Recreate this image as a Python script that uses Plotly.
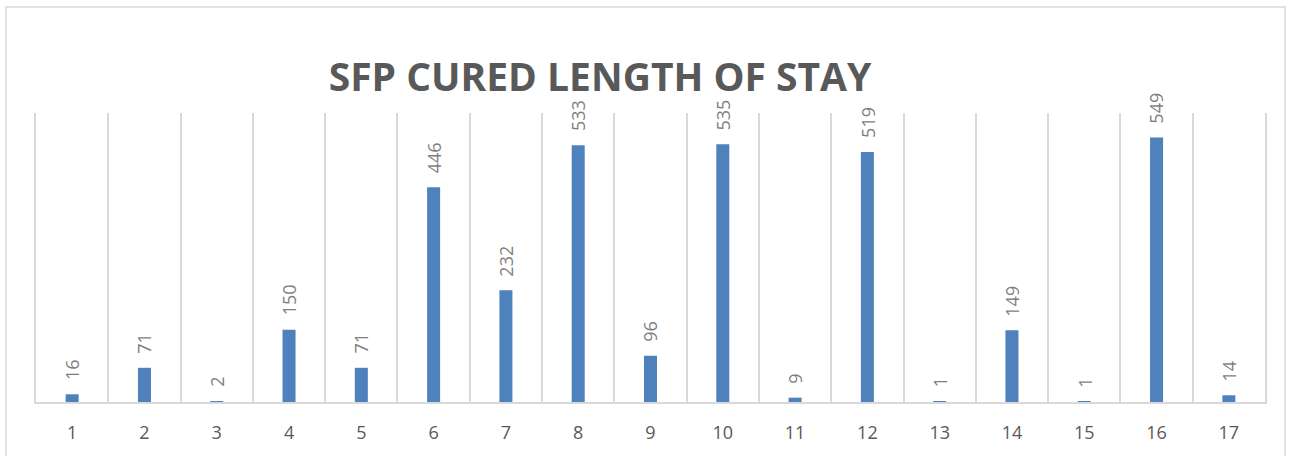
import plotly.graph_objects as go

categories = [str(i) for i in range(1, 18)]
values = [16, 71, 2, 150, 71, 446, 232, 533, 96, 535, 9, 519, 1, 149, 1, 549, 14]
title_text = "SFP CURED LENGTH OF STAY"

x_pos = list(range(1, len(categories) + 1))

fig = go.Figure()
fig.add_trace(go.Bar(
    x=x_pos, y=values, width=0.18,
    marker=dict(color="#4F81BD", line=dict(width=0)),
    hoverinfo="skip",
))

for xp, v in zip(x_pos, values):
    fig.add_annotation(
        x=xp, y=v, xref="x", yref="y", text=str(v), showarrow=False,
        textangle=-90, yanchor="bottom", xanchor="center", yshift=12,
        font=dict(family="Open Sans", size=18, color="#7F7F7F"),
    )

fig.add_shape(type="rect", xref="paper", yref="paper",
              x0=(6 - 36) / 1229, x1=(1285 - 36) / 1229,
              y0=(402 - 480) / 289, y1=(402 - 7) / 289,
              line=dict(color="#D9D9D9", width=1.5), fillcolor="rgba(0,0,0,0)", layer="below")

fig.update_layout(
    width=1295, height=456,
    margin=dict(l=36, r=30, t=113, b=54),
    paper_bgcolor="white", plot_bgcolor="white",
    showlegend=False,
    title=dict(text="<b>" + title_text + "</b>", x=600 / 1295, xanchor="center",
               y=1 - 77 / 456, yanchor="middle", yref="container",
               font=dict(family="Open Sans", size=39, color="#595959")),
    xaxis=dict(
        range=[0.5, 17.5], tickvals=x_pos, ticktext=categories,
        showgrid=False, zeroline=False, showline=True, linecolor="#D9D9D9", linewidth=1.5,
        ticks="", ticklabelstandoff=14,
        tickfont=dict(family="Open Sans", size=18, color="#595959"),
        minor=dict(tickvals=[i + 0.5 for i in range(1, 17)], showgrid=True,
                   gridcolor="#D9D9D9", gridwidth=1.5, ticks=""),
    ),
    yaxis=dict(
        range=[0, 600], showgrid=False, zeroline=False, showticklabels=False,
        showline=True, mirror=True, linecolor="#D9D9D9", linewidth=1.5, ticks="",
    ),
)

fig.write_html("out.html")
